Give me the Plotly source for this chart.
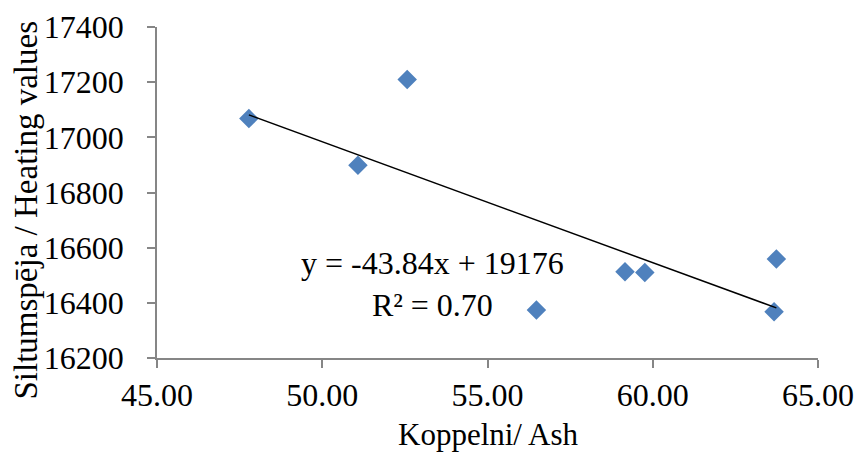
import plotly.graph_objects as go

ash = [47.78, 52.57, 51.08, 56.48, 59.16, 59.76, 63.74, 63.67]
heating = [17068, 17210, 16899, 16374, 16513, 16510, 16559, 16368]
trend_slope = -43.84
trend_intercept = 19176
r_squared = 0.70

x_ticks = [45, 50, 55, 60, 65]
y_ticks = [16200, 16400, 16600, 16800, 17000, 17200, 17400]

x_title = "Koppelni/ Ash"
y_title = "Siltumspēja / Heating values"

FONT = "Liberation Serif"
FS = 32

tx = [min(ash), max(ash)]
ty = [trend_slope * v + trend_intercept for v in tx]

fig = go.Figure()
fig.add_trace(go.Scatter(
    x=ash, y=heating, mode="markers",
    marker=dict(symbol="diamond", size=15, color="#4F81BD"),
    showlegend=False, hoverinfo="x+y"))
fig.add_trace(go.Scatter(
    x=tx, y=ty, mode="lines",
    line=dict(color="black", width=1.5),
    showlegend=False, hoverinfo="skip"))

fig.add_annotation(
    x=53.33, y=16470, xref="x", yref="y",
    text=f"y = {trend_slope}x + {trend_intercept}<br>R² = {r_squared:.2f}",
    showarrow=False, align="center",
    font=dict(family=FONT, size=FS, color="black"))

# axis titles
fig.add_annotation(
    x=0.5, y=0, xref="paper", yref="paper", yshift=-76,
    xanchor="center", yanchor="middle", showarrow=False,
    text=x_title, font=dict(family=FONT, size=FS - 1, color="black"))
fig.add_annotation(
    x=0, y=0.5, xref="paper", yref="paper", xshift=-132, yshift=-18,
    xanchor="center", yanchor="middle", showarrow=False, textangle=-90,
    text=y_title, font=dict(family=FONT, size=33, color="black"))

axis_common = dict(
    showgrid=False, zeroline=False, showline=True,
    linecolor="#868686", linewidth=1.5,
    ticks="outside", ticklen=8, tickcolor="#868686", tickwidth=1.5,
    tickfont=dict(family=FONT, size=FS, color="black"),
    automargin=False,
)

fig.update_layout(
    width=856, height=454,
    margin=dict(l=157, r=38, t=27, b=96, autoexpand=False),
    paper_bgcolor="white", plot_bgcolor="white",
    font=dict(family=FONT, size=FS, color="black"),
    xaxis=dict(range=[45, 65], tickvals=x_ticks, tickformat=".2f",
               ticklabelstandoff=0, **axis_common),
    yaxis=dict(range=[16200, 17400], tickvals=y_ticks, tickformat="d",
               ticklabelstandoff=17, **axis_common),
)

fig.write_html("out.html")
